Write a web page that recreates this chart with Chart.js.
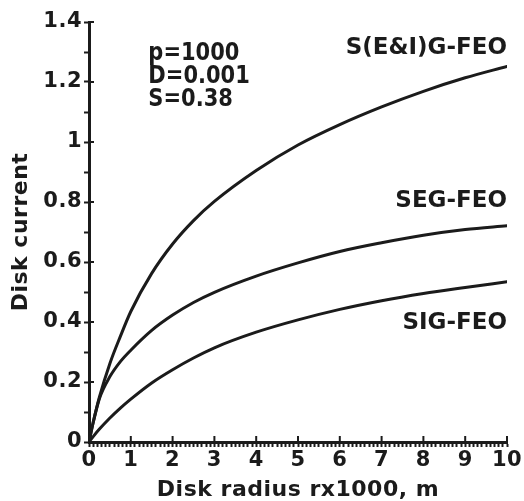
<!DOCTYPE html>
<html>
<head>
<meta charset="utf-8">
<script src="https://cdn.jsdelivr.net/npm/chart.js@4/dist/chart.umd.min.js"></script>
<style>
  html, body { margin: 0; padding: 0; background: #ffffff; }
  #wrap { width: 524px; height: 501px; }
</style>
</head>
<body>
<div id="wrap"><canvas id="c" width="524" height="501"></canvas></div>
<script>
// ---- data ----
const radius = [0, 0.1, 0.25, 0.5, 0.75, 1, 1.5, 2, 2.5, 3, 4, 5, 6, 7, 8, 9, 10];
const seriesNames = ['S(E&I)G-FEO', 'SEG-FEO', 'SIG-FEO'];
const currentEIG = [0, 0.065, 0.15, 0.262, 0.352, 0.435, 0.562, 0.660, 0.738, 0.802, 0.905, 0.990, 1.058, 1.117, 1.169, 1.214, 1.252];
const currentEG  = [0, 0.065, 0.145, 0.218, 0.268, 0.306, 0.372, 0.423, 0.465, 0.499, 0.553, 0.597, 0.635, 0.664, 0.689, 0.708, 0.721];
const currentIG  = [0, 0.018, 0.043, 0.080, 0.113, 0.143, 0.197, 0.241, 0.280, 0.314, 0.366, 0.407, 0.442, 0.471, 0.495, 0.515, 0.534];
const xTickLabels = ['0','1','2','3','4','5','6','7','8','9','10'];
const yTickLabels = ['0','0.2','0.4','0.6','0.8','1','1.2','1.4'];
const paramLines = ['p=1000', 'D=0.001', 'S=0.38'];
const xTitle = 'Disk radius rx1000, m';
const yTitle = 'Disk current';

const INK = '#1b1b1b';
const FONT = '"DejaVu Sans", "Liberation Sans", sans-serif';

function pts(ys) { return radius.map((x, i) => ({ x: x, y: ys[i] })); }

// text annotations (in data coordinates)
const annotations = [
  { text: seriesNames[0], x: 10, y: 1.32, align: 'right', size: 23, sx: 1 },
  { text: seriesNames[1], x: 10, y: 0.81, align: 'right', size: 23, sx: 1 },
  { text: seriesNames[2], x: 10, y: 0.403, align: 'right', size: 23, sx: 1 },
  { text: paramLines[0], x: 1.42, y: 1.303, align: 'left', size: 25, sx: 0.84 },
  { text: paramLines[1], x: 1.42, y: 1.228, align: 'left', size: 25, sx: 0.84 },
  { text: paramLines[2], x: 1.42, y: 1.15, align: 'left', size: 25, sx: 0.84 }
];

const spacingPlugin = {
  id: 'spacing',
  beforeDraw(chart) { chart.ctx.letterSpacing = '0.5px'; }
};

const decorPlugin = {
  id: 'decor',
  afterDraw(chart) {
    const ctx = chart.ctx;
    const xs = chart.scales.x, ys = chart.scales.y;
    const area = chart.chartArea;
    ctx.save();
    ctx.letterSpacing = '0px';
    ctx.strokeStyle = INK;
    ctx.lineWidth = 2;
    // inner halves of major ticks
    ctx.beginPath();
    for (let i = 0; i < yTickLabels.length; i++) {
      const py = ys.getPixelForValue(parseFloat(yTickLabels[i]));
      ctx.moveTo(area.left, py);
      ctx.lineTo(area.left + 5, py);
    }
    for (let i = 0; i < xTickLabels.length; i++) {
      const px = xs.getPixelForValue(parseFloat(xTickLabels[i]));
      ctx.moveTo(px, area.bottom);
      ctx.lineTo(px, area.bottom - 6);
    }
    ctx.stroke();
    // text annotations
    ctx.fillStyle = INK;
    ctx.textBaseline = 'alphabetic';
    annotations.forEach(a => {
      ctx.save();
      ctx.font = 'bold ' + a.size + 'px ' + FONT;
      ctx.textAlign = a.align;
      const px = xs.getPixelForValue(a.x);
      const py = ys.getPixelForValue(a.y) + 0.365 * a.size;
      ctx.translate(px, py);
      ctx.scale(a.sx, 1);
      ctx.fillText(a.text, 0, 0);
      ctx.restore();
    });
    ctx.restore();
  }
};

function lineDs(label, ys) {
  return {
    label: label,
    data: pts(ys),
    borderColor: INK,
    borderWidth: 3,
    pointRadius: 0,
    fill: false,
    cubicInterpolationMode: 'monotone',
    borderCapStyle: 'round',
    borderJoinStyle: 'round'
  };
}

new Chart(document.getElementById('c'), {
  type: 'line',
  data: {
    datasets: [
      lineDs(seriesNames[0], currentEIG),
      lineDs(seriesNames[1], currentEG),
      lineDs(seriesNames[2], currentIG)
    ]
  },
  options: {
    responsive: false,
    devicePixelRatio: 1,
    animation: false,
    layout: { padding: { top: 22, right: 17, left: 0, bottom: 0 } },
    plugins: { legend: { display: false }, tooltip: { enabled: false } },
    scales: {
      x: {
        type: 'linear',
        min: 0, max: 10,
        afterFit(s) { s.height = 59; },
        border: { display: true, color: INK, width: 3 },
        grid: { display: true, drawOnChartArea: false, drawTicks: true, tickLength: 5, tickWidth: 2, tickColor: INK },
        ticks: {
          stepSize: 0.1, autoSkip: false, maxTicksLimit: 200, maxRotation: 0, minRotation: 0,
          padding: 1, color: INK, font: { family: FONT, size: 21, weight: 'bold' },
          callback(v) {
            const k = Math.round(v * 10);
            return k % 10 === 0 ? xTickLabels[k / 10] : '';
          }
        },
        title: { display: true, text: xTitle, color: INK, font: { family: FONT, size: 22, weight: 'bold', lineHeight: 1 }, padding: { top: 0, bottom: 0 } }
      },
      y: {
        type: 'linear',
        min: 0, max: 1.4,
        afterFit(s) { s.width = 89; },
        border: { display: true, color: INK, width: 3 },
        grid: { display: true, drawOnChartArea: false, drawTicks: true, tickLength: 5, tickWidth: 2, tickColor: INK },
        ticks: {
          stepSize: 0.1, autoSkip: false, maxTicksLimit: 50,
          padding: 2, color: INK, font: { family: FONT, size: 21, weight: 'bold' },
          callback(v) {
            const k = Math.round(v * 10);
            return k % 2 === 0 ? yTickLabels[k / 2] : '';
          }
        },
        title: { display: true, text: yTitle, color: INK, font: { family: FONT, size: 22, weight: 'bold', lineHeight: 1 }, padding: { top: 10, bottom: 0 } }
      }
    }
  },
  plugins: [spacingPlugin, decorPlugin]
});
</script>
</body>
</html>
